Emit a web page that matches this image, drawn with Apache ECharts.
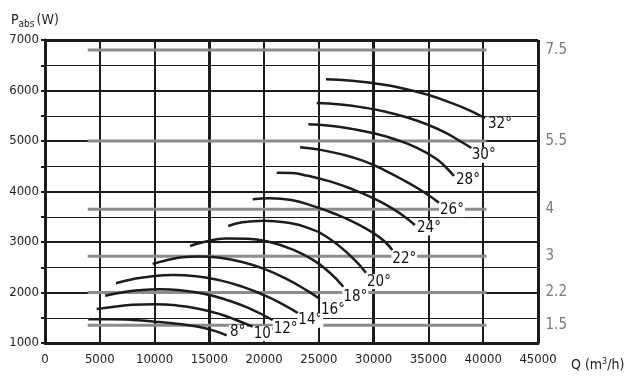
<!DOCTYPE html>
<html>
<head>
<meta charset="utf-8">
<script src="https://cdn.jsdelivr.net/npm/echarts@6/dist/echarts.min.js"></script>
<style>
html,body{margin:0;padding:0;background:#fff;}
#chart{width:630px;height:376px;}
</style>
</head>
<body>
<div id="chart"></div>
<script>
// power curves per blade angle, [Q m3/h, Pabs W]
var curve8  = [[3950,1470],[6000,1472],[8000,1455],[10000,1423],[12000,1380],[14000,1320],[15500,1240],[16580,1150]];
var curve10 = [[4720,1674],[6500,1725],[8000,1755],[10000,1767],[12000,1745],[14000,1680],[16000,1570],[17500,1450],[18960,1323]];
var curve12 = [[5480,1937],[7000,2002],[8500,2043],[10500,2063],[12500,2040],[14500,1975],[16500,1860],[18500,1700],[20780,1456]];
var curve14 = [[6480,2183],[8000,2264],[10000,2329],[11700,2347],[14000,2316],[16000,2240],[18000,2117],[20000,1947],[21500,1789],[23120,1589]];
var curve16 = [[9830,2565],[11000,2635],[12500,2696],[14000,2715],[16000,2688],[18000,2605],[20000,2468],[22000,2275],[24000,2028],[25100,1870]];
var curve18 = [[13240,2921],[14500,3000],[16500,3070],[18500,3065],[20500,3000],[22500,2860],[24500,2640],[26000,2390],[27230,2115]];
var curve20 = [[16730,3317],[18000,3390],[20000,3422],[22000,3385],[24000,3280],[26000,3060],[28000,2700],[29300,2393]];
var curve22 = [[18960,3846],[20500,3868],[22500,3830],[24500,3710],[26500,3555],[28500,3360],[30000,3173],[31000,3010],[31700,2842]];
var curve24 = [[21150,4373],[22500,4365],[24000,4310],[26000,4200],[28000,4050],[30000,3866],[31500,3690],[32700,3520],[33770,3337]];
var curve26 = [[23280,4875],[25000,4830],[27000,4740],[29000,4610],[31000,4420],[33000,4190],[34700,3970],[35960,3779]];
var curve28 = [[24040,5331],[26000,5300],[28000,5240],[30000,5153],[32000,5030],[34000,4860],[35700,4650],[36500,4500],[37330,4307]];
var curve30 = [[24800,5753],[27000,5722],[29000,5665],[31000,5585],[33000,5470],[35000,5317],[36500,5170],[37800,5010],[38950,4856]];
var curve32 = [[25650,6222],[28000,6195],[30000,6143],[32500,6050],[35000,5911],[37000,5760],[38700,5610],[40160,5450]];
var angleNames = ['8°','10°','12°','14°','16°','18°','20°','22°','24°','26°','28°','30°','32°'];

// motor power (kW) limits
var motorPower = ['7.5','5.5','4','3','2.2','1.5'];
var motorLevel = [6800,5000,3650,2720,2000,1350];
var motorFrom = 3900;
var motorTo = 40300;

var curves = [curve8,curve10,curve12,curve14,curve16,curve18,curve20,curve22,curve24,curve26,curve28,curve30,curve32];
var labelPos = [[11,-3],[13,7],[13,9],[12,7],[13,11],[12,10],[13,9],[12,9],[14,3],[13,7],[14,4],[12,7],[15,6]];
var narrow = "'Liberation Sans Narrow','DejaVu Sans Condensed','Liberation Sans',Arial,sans-serif";
var ink = '#1c1c1c';

var chart = echarts.init(document.getElementById('chart'));
var series = [];

for (var i = 0; i < motorLevel.length; i++) {
	series.push({
		type: 'line',
		silent: true,
		symbol: 'none',
		z: 3,
		data: [[motorFrom, motorLevel[i]], [motorTo, motorLevel[i]]],
		lineStyle: {color: '#8c8c8c', width: 3},
		endLabel: {show: true, formatter: motorPower[i], distance: 59, color: '#7a7a7a', fontSize: 15, fontFamily: narrow}
	});
}

for (var k = 0; k < curves.length; k++) {
	series.push({
		type: 'line',
		silent: true,
		symbol: 'none',
		smooth: true,
		z: 4,
		data: curves[k],
		lineStyle: {color: ink, width: 2.5},
		endLabel: {
			show: true, formatter: angleNames[k], distance: 0,
			align: 'center', verticalAlign: 'middle',
			offset: labelPos[k],
			color: '#111', fontSize: 15, fontFamily: narrow,
			backgroundColor: '#fff', padding: [0, 1]
		}
	});
}

function plain(v) {
	return String(v);
}

var option = {
	animation: false,
	backgroundColor: '#fff',
	title: [{
		text: '{a|P}{b|abs}{a|(W)}',
		left: 6, top: 7,
		textStyle: {
			fontWeight: 'normal',
			rich: {
				a: {fontSize: 14, color: '#222', fontFamily: narrow},
				b: {fontSize: 10, color: '#222', fontFamily: narrow, padding: [7, 2, 0, 0]}
			}
		}
	}, {
		text: 'Q (m{c|3}/h)',
		left: 566, top: 352,
		textStyle: {
			fontSize: 14, fontWeight: 'normal', color: '#222', fontFamily: narrow,
			rich: {c: {fontSize: 9, color: '#222', fontFamily: narrow, padding: [0, 0, 8, 0]}}
		}
	}],
	grid: {left: 45, right: 92, top: 40, bottom: 33},
	xAxis: [{
		type: 'value', min: 0, max: 45000, interval: 5000,
		axisLine: {show: true, lineStyle: {color: ink, width: 3}},
		axisTick: {show: false},
		axisLabel: {color: '#222', fontSize: 13, fontFamily: narrow, margin: 10, formatter: plain},
		splitLine: {show: true, lineStyle: {color: ink, width: 2}}
	}, {
		type: 'value', min: 0, max: 45000, interval: 15000,
		axisLine: {show: false}, axisTick: {show: false}, axisLabel: {show: false},
		splitLine: {show: true, lineStyle: {color: ink, width: 3}}
	}],
	yAxis: [{
		type: 'value', min: 1000, max: 7000, interval: 1000,
		axisLine: {show: true, lineStyle: {color: ink, width: 3}},
		axisTick: {show: false},
		axisLabel: {color: '#222', fontSize: 13, fontFamily: narrow, margin: 6, formatter: plain},
		splitLine: {show: true, lineStyle: {color: ink, width: 2}}
	}, {
		type: 'value', min: 1000, max: 7000, interval: 500, position: 'left',
		axisLine: {show: false},
		axisTick: {show: true, length: 4, lineStyle: {color: ink, width: 2}},
		axisLabel: {show: false},
		splitLine: {show: true, lineStyle: {color: ink, width: 1}}
	}, {
		type: 'value', min: 1000, max: 7000, interval: 6000, position: 'left',
		axisLine: {show: false}, axisTick: {show: false}, axisLabel: {show: false},
		splitLine: {show: true, lineStyle: {color: ink, width: 3}}
	}],
	series: series
};

chart.setOption(option);
</script>
</body>
</html>
